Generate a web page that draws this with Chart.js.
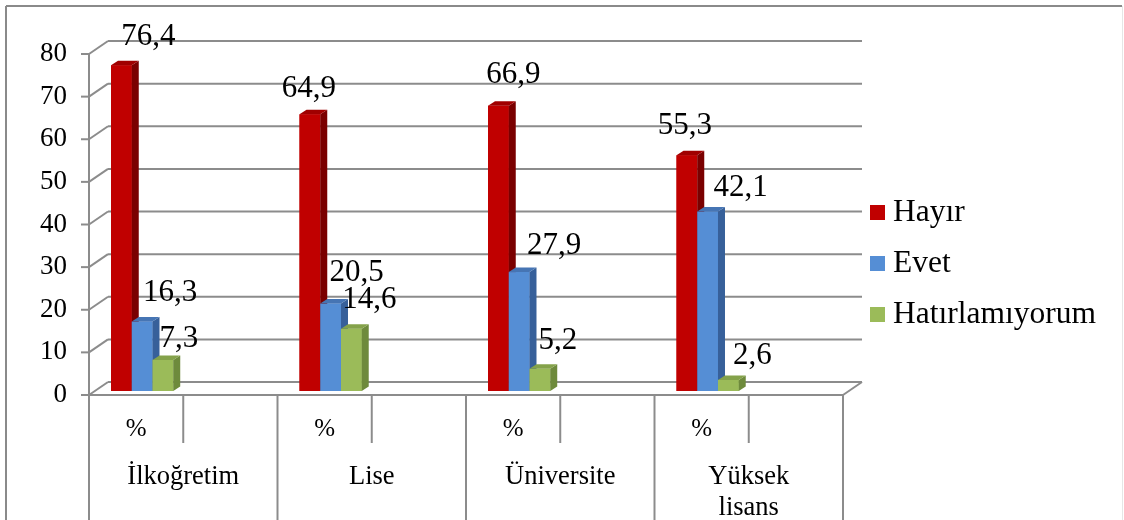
<!DOCTYPE html>
<html>
<head>
<meta charset="utf-8">
<script src="https://cdn.jsdelivr.net/npm/chart.js@4.4.1/dist/chart.umd.min.js"></script>
<style>
  html, body { margin: 0; padding: 0; background: #ffffff; }
  canvas { display: block; }
</style>
</head>
<body>
<canvas id="chart" width="1124" height="520"></canvas>
<script>
// Education level groups and the inner sub-column under each group
const categories = ['İlkoğretim', 'Lise', 'Üniversite', ['Yüksek', 'lisans']];
const subLabels = ['%', ''];

// Answer series (percent)
const seriesNames = ['Hayır', 'Evet', 'Hatırlamıyorum'];
const hayir = [76.4, 64.9, 66.9, 55.3];
const evet = [16.3, 20.5, 27.9, 42.1];
const hatirlamiyorum = [7.3, 14.6, 5.2, 2.6];

// Value axis
const yMin = 0;
const yMax = 80;
const yStep = 10;

// Colours: front face, right side, top face
const palette = [
  { front: '#C00000', side: '#7A0000', top: '#A00000' },
  { front: '#558ED5', side: '#37609A', top: '#4675B4' },
  { front: '#9BBB59', side: '#6E8A3C', top: '#84A24A' }
];

// Each group gets two slots: the '%' column and an empty one
const slotLabels = [];
categories.forEach(() => subLabels.forEach(s => slotLabels.push(s)));
const toSlots = vals => {
  const out = [];
  vals.forEach(v => { out.push(v); for (let k = 1; k < subLabels.length; k++) out.push(null); });
  return out;
};
const seriesValues = [hayir, evet, hatirlamiyorum];

const fmt = v => v.toFixed(1).replace('.', ',');
const SERIF = '"Liberation Serif", "Times New Roman", serif';

// Pseudo-3D geometry (relative to the plane the bars' front faces sit on)
const DEPTH = { dx: 7, dy: -4.5 };   // bar thickness
const FRONT = { dx: -6, dy: 4 };     // front edge of the floor / axis plane
const BACK = { dx: 13, dy: -9 };     // back wall plane
const GRID = '#8C8C8C';

// Data label offsets from the top centre of each bar's front face
const labelOffsets = [
  [[27, -28], [-1, -26], [15, -31], [-2, -29]],
  [[28, -29], [26, -31], [35, -26], [33, -24]],
  [[16, -21], [18, -29], [18, -28], [24, -24]]
];

function line(ctx, x1, y1, x2, y2) {
  ctx.beginPath();
  ctx.moveTo(x1, y1);
  ctx.lineTo(x2, y2);
  ctx.stroke();
}

const frame3d = {
  id: 'frame3d',
  beforeDraw(chart) {
    const { ctx, width, height } = chart;
    ctx.save();
    ctx.fillStyle = '#ffffff';
    ctx.fillRect(0, 0, width, height);
    // outer frame
    ctx.strokeStyle = '#8A8A8A';
    ctx.lineWidth = 2;
    line(ctx, 6, 6, 1122, 6);
    line(ctx, 6, 6, 6, height);
    ctx.strokeStyle = '#E6E6E6';
    ctx.lineWidth = 1;
    line(ctx, 1122.5, 6, 1122.5, height);
    ctx.restore();
  },
  beforeDatasetsDraw(chart) {
    const { ctx, chartArea: ca, scales: { x, y }, height } = chart;
    ctx.save();
    ctx.strokeStyle = GRID;
    ctx.lineWidth = 2;
    ctx.lineCap = 'butt';
    // value gridlines on the back wall, joined to the front axis by the side wall
    y.ticks.forEach(t => {
      const yp = y.getPixelForValue(t.value);
      line(ctx, ca.left + BACK.dx, yp + BACK.dy, ca.right + BACK.dx, yp + BACK.dy);
      line(ctx, ca.left + FRONT.dx, yp + FRONT.dy, ca.left + BACK.dx, yp + BACK.dy);
      line(ctx, ca.left + FRONT.dx - 8, yp + FRONT.dy, ca.left + FRONT.dx, yp + FRONT.dy);
    });
    const y0 = y.getPixelForValue(yMin);
    const yTop = y.getPixelForValue(yMax);
    // front value axis
    line(ctx, ca.left + FRONT.dx, yTop + FRONT.dy, ca.left + FRONT.dx, height);
    // floor front edge and right corner
    line(ctx, ca.left + FRONT.dx, y0 + FRONT.dy, ca.right + FRONT.dx, y0 + FRONT.dy);
    line(ctx, ca.right + FRONT.dx, y0 + FRONT.dy, ca.right + BACK.dx, y0 + BACK.dy);
    // slot and group dividers under the floor
    const n = slotLabels.length;
    const slotW = (x.getPixelForTick(1) - x.getPixelForTick(0));
    for (let i = 0; i <= n; i++) {
      const bx = x.getPixelForTick(0) - slotW / 2 + i * slotW + FRONT.dx;
      const outer = i % subLabels.length === 0;
      line(ctx, bx, y0 + FRONT.dy, bx, outer ? height : y0 + FRONT.dy + 48);
    }
    ctx.restore();
  },
  afterDatasetsDraw(chart) {
    const { ctx, scales: { x } } = chart;
    ctx.save();
    const metas = chart.data.datasets.map((d, i) => chart.getDatasetMeta(i));
    // bars, left to right inside each group, so each front face hides the previous side
    categories.forEach((c, ci) => {
      const slot = ci * subLabels.length;
      metas.forEach((meta, di) => {
        const bar = meta.data[slot];
        if (!bar || seriesValues[di][ci] == null) return;
        const { x: bx, y: by, base, width: w } = bar.getProps(['x', 'y', 'base', 'width'], true);
        const l = bx - w / 2, r = bx + w / 2;
        const col = palette[di];
        ctx.fillStyle = col.front;
        ctx.fillRect(l, by, w, base - by);
        ctx.fillStyle = col.side;
        ctx.beginPath();
        ctx.moveTo(r, by);
        ctx.lineTo(r + DEPTH.dx, by + DEPTH.dy);
        ctx.lineTo(r + DEPTH.dx, base + DEPTH.dy);
        ctx.lineTo(r, base);
        ctx.closePath();
        ctx.fill();
        ctx.fillStyle = col.top;
        ctx.beginPath();
        ctx.moveTo(l, by);
        ctx.lineTo(l + DEPTH.dx, by + DEPTH.dy);
        ctx.lineTo(r + DEPTH.dx, by + DEPTH.dy);
        ctx.lineTo(r, by);
        ctx.closePath();
        ctx.fill();
      });
    });
    // value labels
    ctx.fillStyle = '#000000';
    ctx.font = '31px ' + SERIF;
    ctx.textAlign = 'center';
    ctx.textBaseline = 'middle';
    categories.forEach((c, ci) => {
      const slot = ci * subLabels.length;
      metas.forEach((meta, di) => {
        const bar = meta.data[slot];
        const v = seriesValues[di][ci];
        if (!bar || v == null) return;
        const off = labelOffsets[di][ci];
        ctx.fillText(fmt(v), bar.x + off[0], bar.y + off[1]);
      });
    });
    // group names below the '%' row
    ctx.font = '26.5px ' + SERIF;
    ctx.textBaseline = 'middle';
    categories.forEach((c, ci) => {
      const first = x.getPixelForTick(ci * subLabels.length);
      const last = x.getPixelForTick(ci * subLabels.length + subLabels.length - 1);
      const cx = (first + last) / 2 + FRONT.dx;
      const lines = Array.isArray(c) ? c : [c];
      lines.forEach((t, li) => ctx.fillText(t, cx, 477 + li * 31));
    });
    ctx.restore();
  },
  afterDraw(chart) {
    // legend
    const { ctx } = chart;
    ctx.save();
    ctx.font = '31.5px ' + SERIF;
    ctx.textAlign = 'left';
    ctx.textBaseline = 'middle';
    chart.data.datasets.forEach((d, i) => {
      const cy = 213 + i * 51;
      ctx.fillStyle = d.backgroundColor;
      ctx.fillRect(870, cy - 8, 15, 15);
      ctx.fillStyle = '#000000';
      ctx.fillText(d.label, 893, cy);
    });
    ctx.restore();
  }
};

Chart.defaults.color = '#000000';
Chart.defaults.font.family = SERIF;

new Chart(document.getElementById('chart'), {
  type: 'bar',
  data: {
    labels: slotLabels,
    datasets: seriesValues.map((vals, i) => ({
      label: seriesNames[i],
      data: toSlots(vals),
      backgroundColor: palette[i].front,
      borderWidth: 0,
      categoryPercentage: 0.66,
      barPercentage: 1.0,
      skipNull: false
    }))
  },
  options: {
    responsive: false,
    devicePixelRatio: 1,
    animation: false,
    events: [],
    layout: { padding: { left: 0, top: 50, right: 275, bottom: 0 } },
    plugins: {
      legend: { display: false },
      tooltip: { enabled: false }
    },
    scales: {
      x: {
        offset: true,
        grid: { display: false, drawTicks: false },
        border: { display: false },
        ticks: {
          autoSkip: false,
          maxRotation: 0,
          padding: 23,
          labelOffset: FRONT.dx,
          font: { size: 25, family: SERIF },
          color: '#000000'
        },
        afterFit: s => { s.height = 129; }
      },
      y: {
        min: yMin,
        max: yMax,
        grid: { display: false, drawTicks: false },
        border: { display: false },
        ticks: {
          stepSize: yStep,
          padding: 28,
          labelOffset: FRONT.dy,
          font: { size: 27, family: SERIF },
          color: '#000000'
        },
        afterFit: s => { s.width = 95; }
      }
    }
  },
  plugins: [frame3d]
});
</script>
</body>
</html>
